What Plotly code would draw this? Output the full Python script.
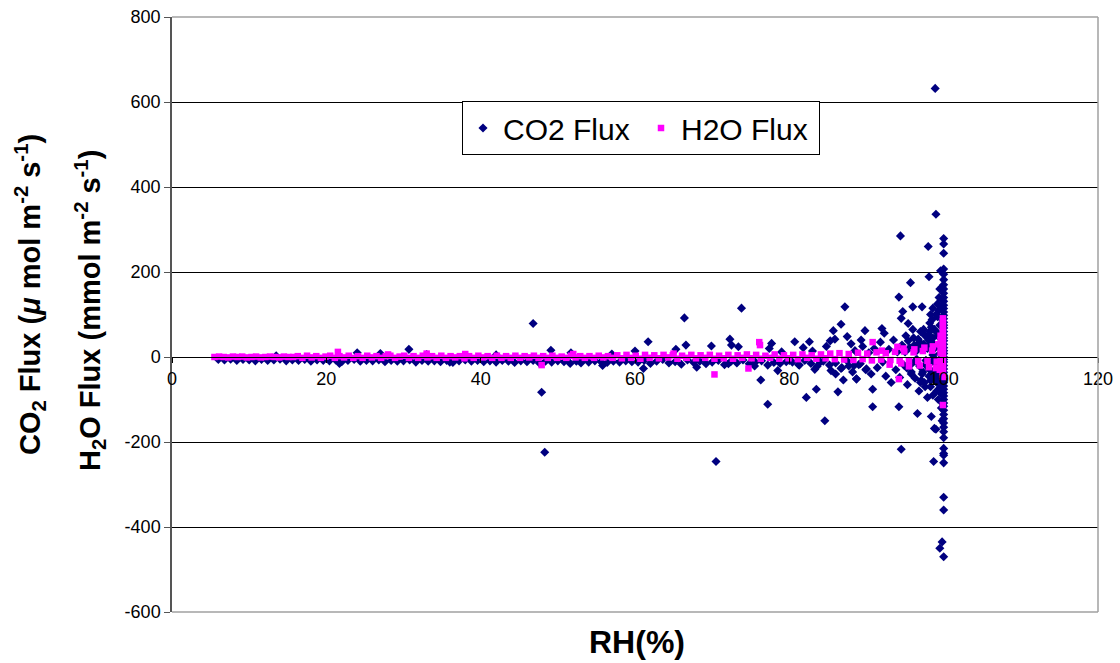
import plotly.graph_objects as go

# ---------------- data ----------------
# CO2 flux: dense band just below zero
co2_band_rh = [6.0,6.8,7.6,8.4,9.2,10.0,10.8,11.6,12.4,13.2,14.0,14.8,15.6,16.4,17.2,18.0,18.8,19.6,
               20.4,21.2,22.0,22.8,23.6,24.4,25.2,26.0,26.8,27.6,28.4,29.2,30.0,30.8,31.6,32.4,33.2,34.0,34.8,35.6,36.4,37.2,38.0,38.8,39.6,
               40.4,41.2,42.0,42.8,43.6,44.4,45.2,46.0,46.8,47.6,48.4,49.2,50.0,50.8,51.6,52.4,53.2,54.0,54.8,55.6,56.4,57.2,58.0,58.8,59.6,
               60.4,61.2,62.0,62.8,63.6,64.4,65.2,66.0,66.8,67.6,68.4,69.2,70.0,70.8,71.6,72.4,73.2,74.0,74.8,75.6,76.4,77.2,78.0,78.8,79.6,
               80.4,81.2,82.0,82.8,83.6,84.4,85.2,86.0,86.8,87.6,88.4,89.2,90.0]
co2_band_flux = [-6,-7,-5,-8,-6,-7,-9,-6,-8,-7,-5,-9,-7,-8,-6,-10,-7,-8,
                 -9,-7,-11,-8,-6,-10,-8,-9,-7,-11,-8,-10,-9,-7,-12,-8,-10,-9,-11,-8,-13,-9,-7,-10,-8,
                 -11,-9,-12,-8,-10,-13,-9,-11,-8,-14,-10,-12,-9,-11,-15,-10,-8,-12,-9,-11,-13,-10,-12,-9,-11,
                 -12,-8,-15,-10,-6,-14,-11,-17,-7,-13,-10,-16,-12,-8,-18,-11,-14,-7,-16,-12,-9,-19,-13,-15,-11,
                 -12,-18,-8,-15,-22,-10,-19,-14,-25,-11,-20,-16,-28]

# CO2 flux: scattered points
co2_scatter_rh = [13.5,21.7,24.0,27.0,30.7,33.0,36.0,42.0,46.8,47.9,48.3,49.1,51.7,53.0,55.8,57.0,60.0,61.1,61.7,
                  65.3,66.4,66.6,68.0,69.9,70.5,72.1,72.3,72.5,73.4,73.8,75.5,76.3,77.2,77.4,77.7,78.5,79.0,80.0,
                  80.7,81.3,81.8,82.2,82.6,83.0,83.3,83.5,84.0,84.6,84.8,85.3,85.4,85.7,85.9,86.0,86.3,86.7,86.7,
                  87.0,87.2,87.5,87.7,88.0,88.2,88.5,88.7,88.7,89.0,89.3,89.5,89.8,89.9,90.3,90.6,90.8,90.8,91.0,
                  91.4,91.8,92.0,92.1,92.3,92.5,92.9,93.2,93.5,93.8,94.0,94.2,94.2,94.3,94.4,94.5,94.5,94.6,94.7,
                  94.9,95.1,95.3,95.4,95.6,95.7,95.8,96.0,96.1,96.3,96.5,96.6,96.8,97.0,97.2,97.2,97.4,97.6,97.8,
                  98.0,98.0,98.1,98.2,98.3,98.4,98.5,98.6,98.6,98.7,98.8,98.8,98.9,98.9,99.0,99.0,99.0,99.1,99.2,
                  99.3,99.4,99.5,99.5,99.5,99.6,99.6,99.7,99.7,99.8,99.8,99.8,99.9,99.9,100,100,100]
co2_scatter_flux = [3,-15,10,8,18,6,-12,5,79,-83,-224,16,10,-14,-20,7,14,-27,36,
                    18,92,28,-24,26,-246,-16,42,28,24,115,-21,-54,-111,20,32,-32,12,-8,
                    36,-19,22,-95,36,14,-29,-76,-12,-150,25,38,-32,62,42,-40,-82,77,-27,
                    -54,118,48,-21,31,-35,15,-51,-52,-18,40,25,62,-30,10,-40,-76,-117,20,
                    -25,35,67,-12,56,-45,18,-60,40,-30,12,-117,141,-48,285,-217,91,28,107,
                    -20,50,-65,79,22,175,-35,118,45,-50,15,-133,-80,60,118,-40,30,-70,48,
                    260,-25,189,80,-55,-140,35,115,-90,-246,-168,65,632,-30,336,-170,100,-60,50,
                    -100,140,-450,-45,75,203,-75,-120,120,-435,-150,165,30,-10,-470,-330,-360]

# CO2 flux: dense cloud at RH 95-100
co2_cloud_rh = [95.0,95.2,95.4,95.9,96.2,96.4,96.7,96.9,97.1,97.3,
                97.5,97.7,97.9,98.1,98.2,98.4,98.5,98.7,98.9,99.1,
                99.2,99.3,99.4,99.5,99.6,99.7,99.7,99.8,99.8,99.9,
                99.9,99.9,99.5,99.3,99.0,98.6,98.3,97.9,97.0,96.0,
                96.5,96.8,97.1,97.4,97.7,98.0,98.2,98.4,98.6,98.8,
                99.0,99.1,99.2,99.3,99.4,99.5,99.6,99.7,99.8,99.9,
                97.9,98.3,98.9,99.2,99.6,99.4,98.1,97.5,96.9,95.8]
co2_cloud_flux = [12,-25,38,-15,28,-10,42,-22,18,-35,
                  52,-18,25,-45,60,-12,88,-38,22,-80,
                  95,-20,110,-65,55,-35,90,-55,135,-90,
                  70,-110,160,-25,-45,45,-70,20,-60,65,
                  -5,30,-55,65,-8,40,-30,70,5,-45,
                  -15,58,-35,25,-75,8,-50,48,-25,12,
                  -95,100,-5,125,-85,-30,50,-60,35,-40]

# CO2 flux: vertical column at RH = 100
co2_col_rh = [100] * 54
co2_col_flux = [279,266,244,207,195,182,170,160,150,140,131,122,114,106,98,90,82,75,68,60,52,45,38,30,22,15,8,0,
                -6,-12,-20,-28,-36,-44,-52,-60,-68,-76,-84,-92,-100,-108,-116,-125,-135,-145,-155,-165,-176,-190,
                -215,-227,-231,-249]

# H2O flux: dense band around zero
h2o_band_rh = [5.5,6.1,6.7,7.3,7.9,8.5,9.1,9.7,10.3,10.9,11.5,12.1,12.7,13.3,13.9,14.5,15.1,15.7,
               16.3,16.9,17.5,18.1,18.7,19.3,19.9,20.5,21.1,21.7,22.3,22.9,23.5,24.1,24.7,25.3,25.9,26.5,27.1,27.7,28.3,28.9,29.5,
               30.1,30.7,31.3,31.9,32.5,33.1,33.7,34.3,34.9,35.5,36.1,36.7,37.3,37.9,38.5,39.1,39.7,40.3,40.9,41.5,42.1,42.7,43.3,
               43.9,44.5,45.1,45.7,46.3,46.9,47.5,48.1,48.7,49.3,49.9,50.5,51.1,51.7,52.3,52.9,53.5,54.1,54.7,55.3,55.9,56.5,57.1,
               57.7,58.3,58.9,59.5,60.1,60.7,61.3,61.9,62.5,63.1,63.7,64.3,64.9,65.5,66.1,66.7,67.3,67.9,68.5,69.1,69.7,70.3,70.9,
               71.5,72.1,72.7,73.3,73.9,74.5,75.1,75.7,76.3,76.9,77.5,78.1,78.7,79.3,79.9,80.5,81.1,81.7,82.3,82.9,83.5,84.1,84.7,
               85.3,85.9,86.5,87.1,87.7,88.3,88.9,89.5,90.1,90.7,91.3,91.9,92.5,93.1,93.7,94.3,94.9,95.5,96.1,96.7,97.3,97.9,98.5,99.1,99.7]
h2o_band_flux = [0,1,0,-1,1,0,1,-1,0,1,-1,0,1,0,-1,1,0,0,
                 2,-2,3,-1,2,-2,1,3,-2,2,-1,3,-2,2,-2,3,-1,2,-2,2,3,-2,1,
                 3,-2,2,-2,3,-1,2,-2,3,-2,2,-1,2,-3,2,-2,3,-1,2,-2,3,-2,2,
                 -2,3,-2,2,-1,3,-2,2,-2,3,-2,1,-2,3,-1,2,-2,2,-2,3,-1,2,-2,
                 4,-3,5,-2,3,-4,5,-2,4,-3,5,-1,4,-4,3,-2,5,-3,4,-2,5,-4,3,
                 -3,5,-4,4,-2,6,-3,5,-4,3,-2,6,-4,4,-3,5,-5,6,-2,4,-4,6,-3,
                 8,-5,9,-6,7,-7,10,-5,8,-8,11,-6,9,-7,12,-9,13,-8,11,-10,14,-9,15,-11,17]

# H2O flux: scattered points and the spike at RH ~ 100
h2o_scatter_rh = [21.5,28.0,33.0,38.0,47.9,52.0,65.0,70.3,74.7,76.1,76.2,90.8,92.0,93.0,94.0,94.2,94.5,94.8,
                  95.5,96.2,96.9,97.5,98.1,98.6,99.0,99.3,99.5,
                  99.6,99.6,99.6,99.6,99.6,99.6,99.6,99.6,
                  99.9,99.9,99.9,99.9,99.9,99.9,99.9,99.9,99.9,99.9,99.9,99.9,99.9,99.9,99.9,99.9,99.9,99.9,99.9,99.9,99.9,99.9]
h2o_scatter_flux = [12,6,8,7,-19,7,8,-41,-27,35,28,35,15,-18,24,-52,-15,20,
                    -22,18,-20,22,-24,25,-26,30,-30,
                    50,40,30,20,10,-10,-20,-30,
                    91,84,77,70,63,56,49,42,35,28,21,14,7,0,-7,-14,-21,-28,-35,-42,-47,-113]

x_ticks = [0, 20, 40, 60, 80, 100, 120]
y_ticks = [-600, -400, -200, 0, 200, 400, 600, 800]
y_tick_text = ["-600", "-400", "-200", "0", "200", "400", "600", "800"]

# ---------------- figure ----------------
NAVY = "#000080"
MAGENTA = "#FF00FF"

co2_x = co2_band_rh + co2_scatter_rh + co2_cloud_rh + co2_col_rh
co2_y = co2_band_flux + co2_scatter_flux + co2_cloud_flux + co2_col_flux
h2o_x = h2o_band_rh + h2o_scatter_rh
h2o_y = h2o_band_flux + h2o_scatter_flux

fig = go.Figure()
fig.add_trace(go.Scatter(x=co2_x, y=co2_y, mode="markers", name="CO2 Flux",
                         marker=dict(symbol="diamond", size=7, color=NAVY, line=dict(width=0))))
fig.add_trace(go.Scatter(x=h2o_x, y=h2o_y, mode="markers", name="H2O Flux",
                         marker=dict(symbol="square", size=6.5, color=MAGENTA, line=dict(width=0))))

FONT = "Liberation Sans, Arial, sans-serif"
zero_pos = (0 - y_ticks[0]) / (y_ticks[-1] - y_ticks[0])

fig.update_layout(
    width=1120, height=663,
    margin=dict(l=172, r=22, t=17, b=51),
    plot_bgcolor="white", paper_bgcolor="white",
    font=dict(family=FONT, color="black"),
    xaxis=dict(range=[0, 120], tickvals=x_ticks, anchor="free", position=zero_pos,
               showline=True, linecolor="black", linewidth=1,
               ticks="outside", ticklen=5, tickcolor="black", automargin=False,
               showgrid=False, zeroline=False, tickfont=dict(size=18)),
    yaxis=dict(range=[-600, 800], tickvals=y_ticks, ticktext=y_tick_text,
               showgrid=True, gridcolor="black", gridwidth=1,
               showline=True, linecolor="#555555", linewidth=1.5, automargin=False,
               ticks="outside", ticklen=6, tickcolor="#555555",
               zeroline=False, tickfont=dict(size=18)),
    legend=dict(orientation="h", x=(462 - 172) / 926, y=(612 - 101) / 595, xanchor="left", yanchor="top",
                bordercolor="black", borderwidth=1, bgcolor="white",
                font=dict(size=30, family=FONT), entrywidth=133, itemsizing="trace"),
    showlegend=True,
)

# plot-area border (top, right, bottom) in grey
for x0, y0, x1, y1 in [(0, 1, 1, 1), (1, 0, 1, 1), (0, 0, 1, 0)]:
    fig.add_shape(type="line", xref="paper", yref="paper", x0=x0, y0=y0, x1=x1, y1=y1,
                  line=dict(color="#A0A0A0", width=1.5), layer="above")

fig.add_annotation(text="<b>CO<sub>2</sub> Flux (<i>μ</i> mol m<sup>-2</sup> s<sup>-1</sup>)</b>",
                   xref="paper", yref="paper", x=(30 - 172) / 926, y=(612 - 295) / 595,
                   textangle=-90, showarrow=False, xanchor="center", yanchor="middle",
                   font=dict(size=29, family=FONT))
fig.add_annotation(text="<b>H<sub>2</sub>O Flux (mmol m<sup>-2</sup> s<sup>-1</sup>)</b>",
                   xref="paper", yref="paper", x=(90 - 172) / 926, y=(612 - 311) / 595,
                   textangle=-90, showarrow=False, xanchor="center", yanchor="middle",
                   font=dict(size=29, family=FONT))
fig.add_annotation(text="<b>RH(%)</b>", xref="paper", yref="paper",
                   x=(637 - 172) / 926, y=(612 - 662) / 595,
                   showarrow=False, xanchor="center", yanchor="bottom",
                   font=dict(size=32, family=FONT))

fig.write_html("out.html", post_script="document.body.style.margin='0';",
               config={"displayModeBar": False})
